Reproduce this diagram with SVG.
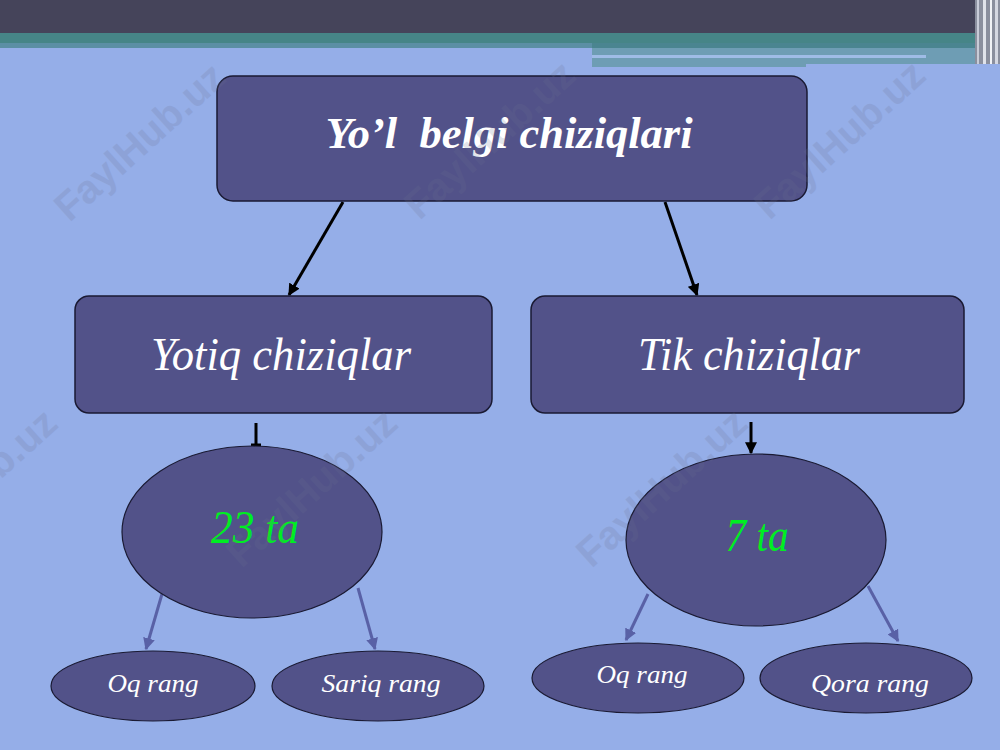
<svg xmlns="http://www.w3.org/2000/svg" width="1000" height="750" viewBox="0 0 1000 750">
<defs>
<style>
.box{fill:#525289;stroke:#1a1a33;stroke-width:1.5}
.ell{fill:#525289;stroke:#1a1a33;stroke-width:1.2}
.t{font-style:italic;fill:#ffffff;text-anchor:middle}
.g{font-style:italic;fill:#00ee22;text-anchor:middle}
.blk{stroke:#000;stroke-width:3;fill:none}
.blu{stroke:#5961a6;stroke-width:3;fill:none}
.wm{font-weight:bold;font-size:40px;fill:#6a7290;opacity:0.18;text-anchor:middle}
</style>
<marker id="ab" viewBox="0 0 10 10" refX="9" refY="5" markerWidth="4" markerHeight="4" orient="auto" markerUnits="strokeWidth">
<path d="M0,0 L10,5 L0,10 z" fill="#000"/>
</marker>
<marker id="au" viewBox="0 0 10 10" refX="9" refY="5" markerWidth="4" markerHeight="4" orient="auto" markerUnits="strokeWidth">
<path d="M0,0 L10,5 L0,10 z" fill="#5961a6"/>
</marker>
</defs>
<rect x="0" y="0" width="1000" height="750" fill="#95aee8"/>
<g id="header">
<rect x="0" y="0" width="1000" height="34" fill="#45445a"/>
<rect x="0" y="33" width="1000" height="11" fill="#468587"/>
<rect x="0" y="43" width="592" height="5" fill="#5b8fa4"/>
<rect x="592" y="43" width="383" height="6" fill="#4a8590"/>
<rect x="592" y="48" width="383" height="16" fill="#6e9db4"/>
<rect x="592" y="55" width="334" height="3" fill="#9fbce6"/>
<rect x="592" y="63" width="214" height="4" fill="#6e9db4"/>
<rect x="975" y="0" width="25" height="64" fill="#8a8f9e"/>
<rect x="977" y="0" width="2" height="64" fill="#c8ccd8"/>
<rect x="983" y="0" width="3" height="64" fill="#e0e3ea"/>
<rect x="990" y="0" width="2" height="64" fill="#f0f2f6"/>
<rect x="995" y="0" width="3" height="64" fill="#d5d8e2"/>
</g>
<g id="connectors">
<line class="blk" x1="343" y1="202" x2="289" y2="295" marker-end="url(#ab)"/>
<line class="blk" x1="665" y1="202" x2="697" y2="295" marker-end="url(#ab)"/>
<line class="blk" x1="256" y1="423" x2="256" y2="446"/>
<line class="blk" x1="251" y1="445" x2="261" y2="445"/>
<line class="blk" x1="751" y1="422" x2="751" y2="453" marker-end="url(#ab)"/>
<line class="blu" x1="162" y1="594" x2="146" y2="649" marker-end="url(#au)"/>
<line class="blu" x1="358" y1="588" x2="375" y2="649" marker-end="url(#au)"/>
<line class="blu" x1="648" y1="594" x2="626" y2="640" marker-end="url(#au)"/>
<line class="blu" x1="868" y1="586" x2="898" y2="641" marker-end="url(#au)"/>
</g>
<g id="root">
<rect class="box" x="217" y="76" width="590" height="125" rx="16"/>
<text class="t" font-family="'Liberation Serif', 'DejaVu Serif', serif" x="509" y="148" font-size="45" font-weight="bold" textLength="367" lengthAdjust="spacingAndGlyphs" xml:space="preserve">Yo’l  belgi chiziqlari</text>
</g>
<g id="yotiq">
<rect class="box" x="75" y="296" width="417" height="117" rx="14"/>
<text class="t" font-family="'Liberation Serif', 'DejaVu Serif', serif" x="281" y="370" font-size="46" textLength="260" lengthAdjust="spacingAndGlyphs">Yotiq chiziqlar</text>
</g>
<g id="tik">
<rect class="box" x="531" y="296" width="433" height="117" rx="14"/>
<text class="t" font-family="'Liberation Serif', 'DejaVu Serif', serif" x="749" y="370" font-size="46" textLength="222" lengthAdjust="spacingAndGlyphs">Tik chiziqlar</text>
</g>
<g id="n23">
<ellipse class="ell" cx="252" cy="532" rx="130" ry="86"/>
<text class="g" font-family="'Liberation Serif', 'DejaVu Serif', serif" x="255" y="543" font-size="46" textLength="88" lengthAdjust="spacingAndGlyphs">23 ta</text>
</g>
<g id="n7">
<ellipse class="ell" cx="756" cy="540" rx="130" ry="86"/>
<text class="g" font-family="'Liberation Serif', 'DejaVu Serif', serif" x="757" y="551" font-size="46" textLength="63" lengthAdjust="spacingAndGlyphs">7 ta</text>
</g>
<g id="oq1">
<ellipse class="ell" cx="153" cy="686" rx="102" ry="35"/>
<text class="t" font-family="'Liberation Serif', 'DejaVu Serif', serif" x="153" y="692" font-size="26" textLength="91" lengthAdjust="spacingAndGlyphs">Oq rang</text>
</g>
<g id="sariq">
<ellipse class="ell" cx="378" cy="686" rx="106" ry="35"/>
<text class="t" font-family="'Liberation Serif', 'DejaVu Serif', serif" x="381" y="692" font-size="26" textLength="119" lengthAdjust="spacingAndGlyphs">Sariq rang</text>
</g>
<g id="oq2">
<ellipse class="ell" cx="638" cy="678" rx="106" ry="35"/>
<text class="t" font-family="'Liberation Serif', 'DejaVu Serif', serif" x="642" y="683" font-size="26" textLength="91" lengthAdjust="spacingAndGlyphs">Oq rang</text>
</g>
<g id="qora">
<ellipse class="ell" cx="866" cy="678" rx="106" ry="35"/>
<text class="t" font-family="'Liberation Serif', 'DejaVu Serif', serif" x="870" y="692" font-size="26" textLength="118" lengthAdjust="spacingAndGlyphs">Qora rang</text>
</g>
<g id="watermarks" font-family="'Liberation Sans', Arial, sans-serif">
<text class="wm" transform="translate(140,142) rotate(-42)" y="13">FaylHub.uz</text>
<text class="wm" transform="translate(490,140) rotate(-42)" y="13">FaylHub.uz</text>
<text class="wm" transform="translate(840,140) rotate(-42)" y="13">FaylHub.uz</text>
<text class="wm" transform="translate(-28,488) rotate(-42)" y="13">FaylHub.uz</text>
<text class="wm" transform="translate(312,488) rotate(-42)" y="13">FaylHub.uz</text>
<text class="wm" transform="translate(662,488) rotate(-42)" y="13">FaylHub.uz</text>
</g>
</svg>
